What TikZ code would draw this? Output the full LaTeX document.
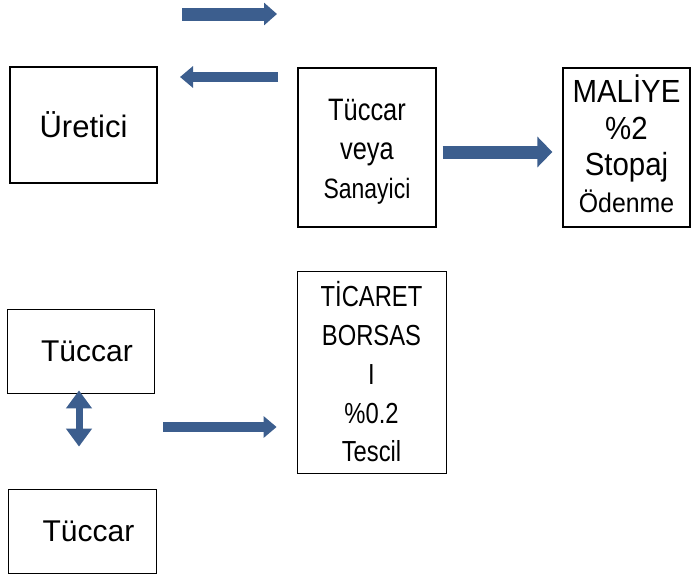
\documentclass[tikz,border=0pt]{standalone}
\usepackage{fontspec}
\setmainfont{Liberation Sans}
\newfontfamily\narrowfont[FakeStretch=0.82]{Liberation Sans}
\newfontfamily\midfont[FakeStretch=0.92]{Liberation Sans}
\usepackage{tikz}
\usetikzlibrary{arrows.meta}
\definecolor{arrowblue}{RGB}{60,94,142}

\begin{document}
\begin{tikzpicture}[x=1pt,y=-1pt]
	\useasboundingbox (0,0) rectangle (691,576);
	\def \sellrow{14}
	\def \buyrow{77}
	\def \toprow{147.5}
	\def \taxrow{427}

	\tikzstyle{box}=[draw=black,line width=1.3pt,inner sep=0pt,align=center]
	\tikzstyle{thin-box}=[draw=black,line width=0.8pt,inner sep=0pt,align=center]
	\tikzstyle{fat-arrow}=[draw=arrowblue,line width=13pt,-{Triangle[width=30pt,length=15pt]}]
	\tikzstyle{slim-arrow}=[draw=arrowblue,line width=10pt,-{Triangle[width=21pt,length=13pt]}]
	\tikzstyle{both-arrow}=[draw=arrowblue,line width=7pt,{Triangle[width=25pt,length=18pt]}-{Triangle[width=25pt,length=18pt]}]

	% first row
	\node[box,minimum width=147pt,minimum height=116pt,font=\fontsize{31}{36}\selectfont]
		(uretici)	at (83.5,125)	{Üretici};
	\node[box,minimum width=138pt,minimum height=159pt,font=\narrowfont\fontsize{31}{39}\selectfont]
		(sanayici)	at (367,\toprow)	{\rule{0pt}{30pt}Tüccar\\veya\\\fontsize{28}{39}\selectfont Sanayici};
	\node[box,minimum width=127pt,minimum height=159pt,font=\midfont\fontsize{32}{36.5}\selectfont]
		(maliye)	at (626.5,\toprow)	{MALİYE\\\%2\\Stopaj\\\fontsize{27}{36.5}\selectfont Ödenme\rule[-8pt]{0pt}{0pt}};

	% second row
	\node[thin-box,minimum width=147pt,minimum height=84pt,font=\fontsize{30}{36}\selectfont]
		(tuccar1)	at (80.5,351)	{\hspace*{13pt}Tüccar};
	\node[thin-box,minimum width=148pt,minimum height=84pt,font=\fontsize{30}{36}\selectfont]
		(tuccar2)	at (82,531)	{\hspace*{13pt}Tüccar};
	\node[thin-box,minimum width=149pt,minimum height=202pt,font=\narrowfont\fontsize{29}{38.75}\selectfont]
		(borsa)	at (371.5,372)	{TİCARET\\BORSAS\\I\\\%0.2\\Tescil};

	% arrow ends
	\coordinate (sell-a)	at (182,\sellrow);
	\coordinate (sell-b)	at (277,\sellrow);
	\coordinate (buy-a)	at (278,\buyrow);
	\coordinate (buy-b)	at (180,\buyrow);
	\coordinate (register)	at (163,\taxrow);

	\draw[fat-arrow,line width=13pt,-{Triangle[width=22pt,length=13pt]}] (sell-a) -- (sell-b);
	\draw[slim-arrow] (buy-a) -- (buy-b);
	\draw[fat-arrow,shorten <=6pt,shorten >=10pt] ([yshift=-4.5pt]sanayici.east) -- ([yshift=-4.5pt]maliye.west);
	\draw[both-arrow,shorten <=-3pt,shorten >=42pt] ([xshift=-1.5pt]tuccar1.south) -- ([xshift=-1.5pt]tuccar1.south |- tuccar2.north);
	\draw[slim-arrow,shorten >=20pt] (register) -- (borsa.west |- register);
\end{tikzpicture}
\end{document}
